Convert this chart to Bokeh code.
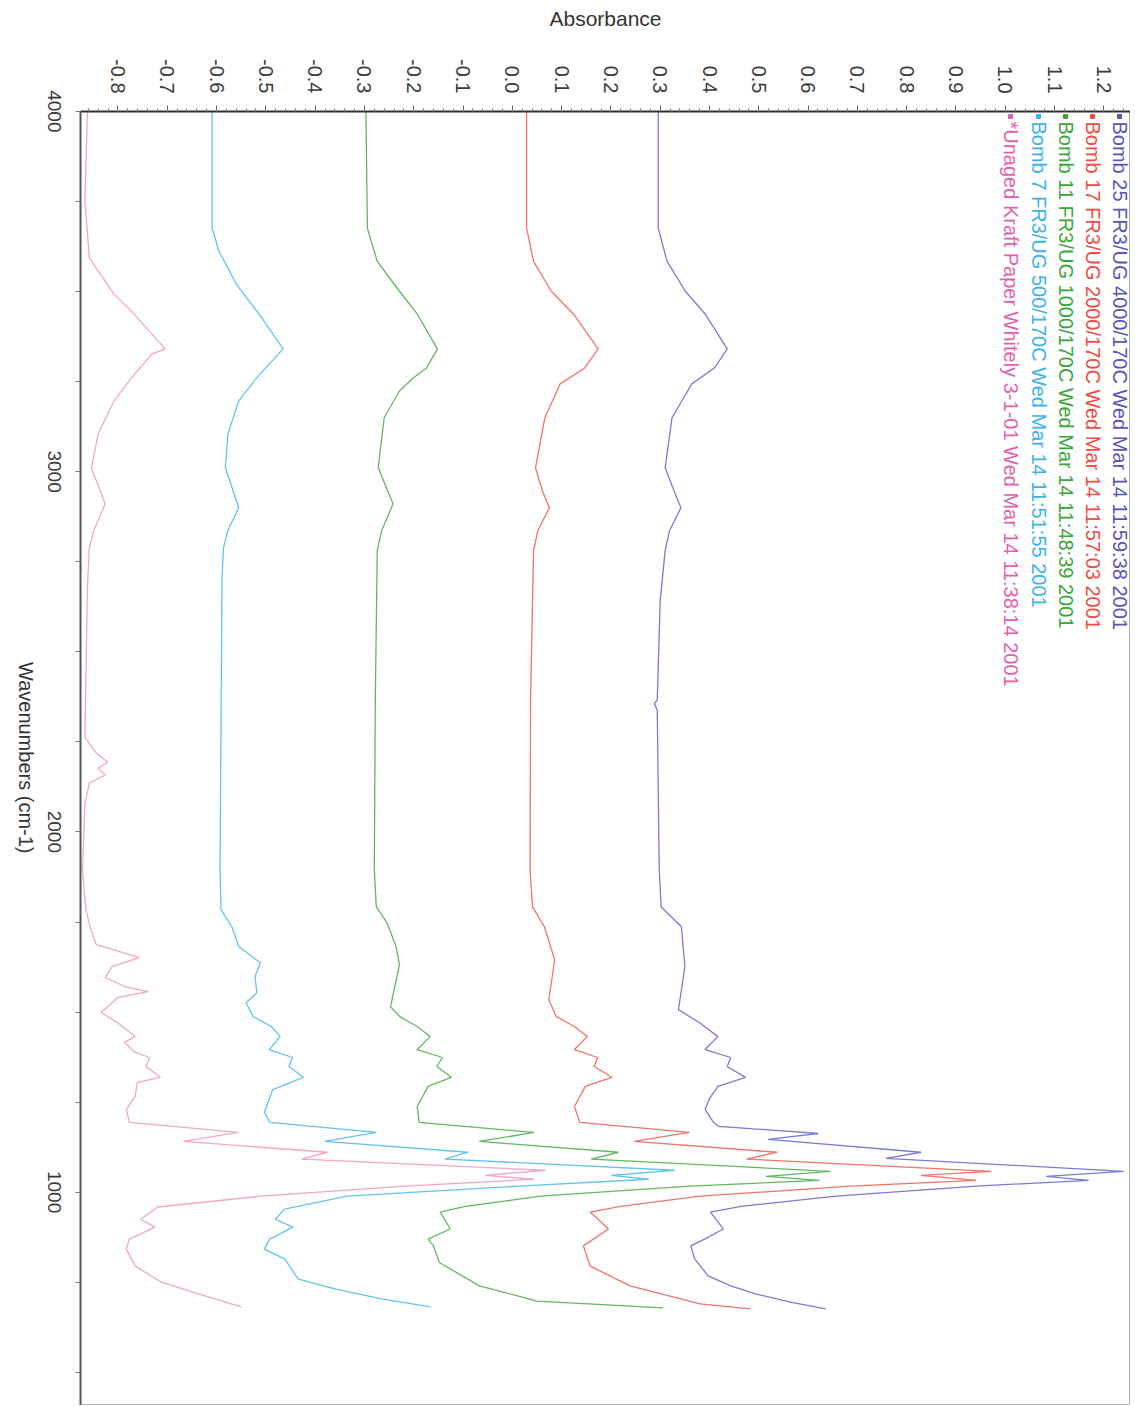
import math
from bokeh.plotting import figure
from bokeh.models import Range1d, FixedTicker, PrintfTickFormatter, ColumnDataSource, LinearAxis
from bokeh.embed import file_html
from bokeh.resources import INLINE
from bokeh.core.properties import value

# ---------------- data (wavenumber cm-1, absorbance) ----------------
B25_WN = [4000, 3676, 3584, 3501, 3438, 3341, 3288, 3244, 3150, 3011, 2947, 2900, 2837, 2781, 2643,
          2366, 2357, 2338, 1895, 1792, 1737, 1626, 1507, 1471, 1432, 1396, 1374, 1349, 1319, 1294,
          1260, 1230, 1194, 1183, 1163, 1147, 1111, 1094, 1058, 1044, 1033, 1017, 989, 961, 945,
          898, 870, 851, 815, 768, 740, 718, 695, 676]
B25_ABS = [0.296, 0.296, 0.314, 0.351, 0.391, 0.436, 0.410, 0.364, 0.324, 0.310, 0.328, 0.342, 0.319, 0.310, 0.300,
           0.294, 0.288, 0.294, 0.298, 0.302, 0.343, 0.350, 0.337, 0.379, 0.417, 0.391, 0.443, 0.436, 0.473, 0.417,
           0.400, 0.391, 0.408, 0.418, 0.621, 0.519, 0.829, 0.758, 1.240, 1.083, 1.169, 0.941, 0.657, 0.464, 0.402,
           0.428, 0.390, 0.362, 0.370, 0.397, 0.443, 0.493, 0.564, 0.636]

B17_WN = [4000, 3676, 3584, 3501, 3438, 3341, 3288, 3244, 3150, 3011, 2947, 2900, 2837, 2781, 2366,
          1895, 1792, 1737, 1645, 1535, 1488, 1460, 1432, 1396, 1374, 1349, 1319, 1294, 1238, 1194,
          1166, 1141, 1111, 1092, 1058, 1047, 1033, 1017, 989, 961, 945, 898, 851, 795, 740, 690, 676]
B17_ABS = [0.029, 0.029, 0.043, 0.079, 0.124, 0.174, 0.147, 0.097, 0.066, 0.047, 0.061, 0.075, 0.052, 0.043, 0.037,
           0.036, 0.041, 0.065, 0.086, 0.074, 0.089, 0.126, 0.152, 0.126, 0.173, 0.166, 0.202, 0.148, 0.126, 0.137,
           0.359, 0.247, 0.537, 0.475, 0.971, 0.829, 0.941, 0.686, 0.381, 0.219, 0.158, 0.195, 0.144, 0.158, 0.239,
           0.381, 0.483]

B11_WN = [4000, 3676, 3584, 3501, 3438, 3341, 3288, 3260, 3224, 3150, 3011, 2911, 2837, 2781, 2366,
          1895, 1792, 1748, 1682, 1632, 1515, 1488, 1460, 1432, 1396, 1374, 1349, 1319, 1294, 1238,
          1194, 1166, 1141, 1111, 1092, 1058, 1044, 1033, 1017, 989, 961, 945, 898, 870, 851,
          805, 740, 698, 679]
B11_ABS = [-0.297, -0.294, -0.274, -0.229, -0.193, -0.152, -0.174, -0.201, -0.229, -0.260, -0.272, -0.242, -0.265, -0.274, -0.278,
           -0.280, -0.276, -0.254, -0.236, -0.229, -0.247, -0.229, -0.193, -0.167, -0.193, -0.142, -0.153, -0.124, -0.171, -0.193,
           -0.189, 0.044, -0.067, 0.215, 0.160, 0.645, 0.515, 0.623, 0.361, 0.057, -0.095, -0.146, -0.126, -0.171, -0.160,
           -0.148, -0.067, 0.050, 0.306]

B7_WN = [4000, 3676, 3612, 3521, 3438, 3341, 3260, 3197, 3105, 3011, 2900, 2837, 2789, 2698, 1895,
         1784, 1737, 1682, 1637, 1598, 1554, 1526, 1488, 1460, 1432, 1396, 1374, 1349, 1319, 1285,
         1222, 1194, 1166, 1141, 1111, 1092, 1061, 1047, 1036, 1017, 989, 953, 925, 903, 870,
         842, 815, 759, 731, 704, 682]
B7_ABS = [-0.609, -0.609, -0.595, -0.560, -0.514, -0.465, -0.519, -0.555, -0.577, -0.582, -0.555, -0.577, -0.586, -0.589, -0.593,
          -0.591, -0.569, -0.555, -0.511, -0.522, -0.518, -0.540, -0.526, -0.489, -0.471, -0.493, -0.446, -0.453, -0.424, -0.486,
          -0.503, -0.492, -0.276, -0.381, -0.090, -0.137, 0.329, 0.201, 0.277, 0.014, -0.335, -0.462, -0.481, -0.445, -0.492,
          -0.503, -0.462, -0.434, -0.358, -0.265, -0.166]

UK_WN = [4000, 3751, 3593, 3493, 3446, 3341, 3327, 3260, 3197, 3105, 3011, 2911, 2837, 2789, 2679,
         2263, 2219, 2194, 2177, 2158, 2136, 2080, 1895, 1784, 1729, 1687, 1673, 1651, 1626, 1596,
         1571, 1557, 1540, 1499, 1471, 1432, 1416, 1388, 1374, 1349, 1319, 1305, 1266, 1230, 1194,
         1166, 1141, 1111, 1092, 1061, 1047, 1036, 1017, 989, 959, 925, 903, 870, 842, 795,
         751, 718, 682]
UK_ABS = [-0.862, -0.867, -0.858, -0.808, -0.773, -0.704, -0.731, -0.773, -0.808, -0.840, -0.854, -0.826, -0.849, -0.858, -0.862,
          -0.867, -0.844, -0.821, -0.840, -0.826, -0.858, -0.867, -0.872, -0.865, -0.855, -0.844, -0.808, -0.757, -0.812, -0.826,
          -0.787, -0.739, -0.801, -0.834, -0.801, -0.765, -0.787, -0.765, -0.736, -0.743, -0.714, -0.761, -0.765, -0.783, -0.777,
          -0.556, -0.667, -0.375, -0.428, 0.067, -0.055, 0.044, -0.218, -0.509, -0.719, -0.754, -0.725, -0.777, -0.783, -0.765,
          -0.713, -0.637, -0.550]

SERIES_NAMES = [
    "Bomb 25 FR3/UG 4000/170C Wed Mar 14 11:59:38 2001",
    "Bomb 17 FR3/UG 2000/170C Wed Mar 14 11:57:03 2001",
    "Bomb 11 FR3/UG 1000/170C Wed Mar 14 11:48:39 2001",
    "Bomb 7 FR3/UG 500/170C Wed Mar 14 11:51:55 2001",
    "*Unaged Kraft Paper Whitely 3-1-01 Wed Mar 14 11:38:14 2001",
]
SERIES_WN = [B25_WN, B17_WN, B11_WN, B7_WN, UK_WN]
SERIES_ABS = [B25_ABS, B17_ABS, B11_ABS, B7_ABS, UK_ABS]
LINE_COLORS = ["#7b7bd6", "#f2736b", "#62b862", "#62c3ef", "#f2a6c8"]
TEXT_COLORS = ["#5656bd", "#f04c42", "#3aa63a", "#3cb2ec", "#e65fae"]

WN_TICKS = [1000, 2000, 3000, 4000]
ABS_TICKS = [-0.8, -0.7, -0.6, -0.5, -0.4, -0.3, -0.2, -0.1, 0.0, 0.1, 0.2, 0.3,
             0.4, 0.5, 0.6, 0.7, 0.8, 0.9, 1.0, 1.1, 1.2]
WN_TITLE = "Wavenumbers (cm-1)"

# ---------------- layout ----------------
X0, X1 = -0.876, 1.254
Y0, Y1 = 408, 4000
FIG_W, FIG_H = 1130, 1405
BORDER_L, BORDER_T = 80, 111
FRAME_L, FRAME_R = BORDER_L, FIG_W
FRAME_T, FRAME_B = BORDER_T, FIG_H
PX_PER_WN = (FRAME_B - FRAME_T) / (Y1 - Y0)

FONT = "Liberation Sans"


def px_to_x(px):
    return X0 + (px - FRAME_L) * (X1 - X0) / (FRAME_R - FRAME_L)


def py_to_y(py):
    return Y1 - (py - FRAME_T) / PX_PER_WN


p = figure(width=FIG_W, height=FIG_H,
           x_range=Range1d(X0, X1), y_range=Range1d(Y0, Y1),
           x_axis_location="above", y_axis_location="left",
           output_backend="svg", toolbar_location=None,
           min_border_left=BORDER_L, min_border_right=0,
           min_border_top=BORDER_T, min_border_bottom=0)
p.xgrid.visible = False
p.ygrid.visible = False
p.outline_line_color = "#b0b0b0"
p.outline_line_width = 1
p.background_fill_color = "white"
p.border_fill_color = "white"

# top (absorbance) axis
xa = p.xaxis[0]
xa.ticker = FixedTicker(ticks=ABS_TICKS,
                        minor_ticks=[round(-0.86 + 0.02 * i, 2) for i in range(106)])
xa.formatter = PrintfTickFormatter(format="%.1f")
xa.major_label_orientation = -math.pi / 2
xa.major_label_text_font = FONT
xa.major_label_text_font_size = "20px"
xa.major_label_text_color = "#3a3a3a"
xa.major_label_standoff = 12
xa.major_tick_out = 6
xa.major_tick_in = 0
xa.minor_tick_out = 3
xa.minor_tick_in = 0
xa.axis_line_color = "#333333"
xa.axis_line_width = 2
xa.major_tick_line_color = "#555555"
xa.minor_tick_line_color = "#777777"
xa.axis_label = "Absorbance"
xa.axis_label_text_font = FONT
xa.axis_label_text_font_style = "normal"
xa.axis_label_text_font_size = "21px"
xa.axis_label_text_color = "#333333"
xa.axis_label_standoff = 26

# left (wavenumber) axis.
# Rotated labels end at their anchor, so the label anchors sit a little below
# the real ticks (drawn as minor ticks) so that each label is centred on its tick.
LABEL_SHIFT = 21 / PX_PER_WN
ya = p.yaxis[0]
label_pos = [round(t - LABEL_SHIFT, 1) for t in WN_TICKS]
ya.ticker = FixedTicker(ticks=label_pos, minor_ticks=[500 + 250 * i for i in range(15)])
ya.major_label_overrides = {pos: str(t) for pos, t in zip(label_pos, WN_TICKS)}
ya.major_label_orientation = -math.pi / 2
ya.major_label_text_font = FONT
ya.major_label_text_font_size = "19px"
ya.major_label_text_color = "#3a3a3a"
ya.major_label_standoff = 21
ya.major_tick_out = 0
ya.major_tick_in = 0
ya.major_tick_line_color = None
ya.minor_tick_out = 5
ya.minor_tick_in = 0
ya.minor_tick_line_color = "#777777"
ya.axis_line_color = "#555555"
ya.axis_line_width = 2
ya.axis_label = None

# axis title drawn as the single label of a bare second axis (reads downward)
title_pos = round(py_to_y(853), 1)
ta = LinearAxis(ticker=FixedTicker(ticks=[title_pos], minor_ticks=[]),
                major_label_overrides={title_pos: WN_TITLE},
                major_label_orientation=-math.pi / 2,
                major_label_text_font=FONT, major_label_text_font_size="20px",
                major_label_text_color="#333333", major_label_standoff=13,
                major_tick_out=0, major_tick_in=0, major_tick_line_color=None,
                minor_tick_line_color=None, axis_line_color=None)
p.add_layout(ta, "left")

# ---------------- spectra ----------------
for wn, ab, col in zip(SERIES_WN, SERIES_ABS, LINE_COLORS):
    p.line(x=ab, y=wn, line_color=col, line_width=1.3)

# ---------------- legend (rotated entries at upper right) ----------------
LEG_COLS = [1119, 1092, 1065, 1038, 1010]
leg = ColumnDataSource(dict(
    x=[px_to_x(c) for c in LEG_COLS],
    y=[py_to_y(121) for _ in LEG_COLS],
    my=[py_to_y(116) for _ in LEG_COLS],
    text=SERIES_NAMES,
    color=TEXT_COLORS,
))
p.text(x="x", y="y", text="text", source=leg, angle=-math.pi / 2,
       text_align="left", text_baseline="middle", text_color="color",
       text_font=value(FONT), text_font_size="20px")
p.scatter(x="x", y="my", source=leg, marker="square", size=4,
          fill_color="color", line_color="color")

open("out.html", "w").write(file_html(p, INLINE))
